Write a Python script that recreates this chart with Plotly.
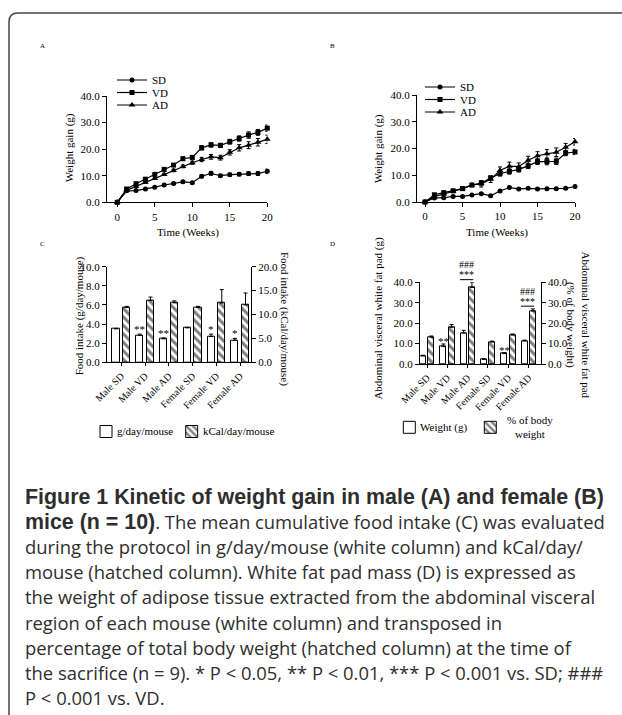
import plotly.graph_objects as go

W, H = 622, 715
def px(x): return x / W
def py(y): return 1 - y / H

SERIF = "Liberation Serif"
SANS = "Open Sans"

# ---------------- data ----------------
weeks = [0, 1.25, 2.5, 3.75, 5, 6.25, 7.5, 8.75, 10, 11.25, 12.5, 13.75, 15, 16.25, 17.5, 18.75, 20]

# Panel A (male)
sd_m = [0, 4.3, 4.4, 5.0, 5.7, 6.5, 7.1, 7.7, 7.4, 9.8, 10.9, 10.0, 10.4, 10.6, 10.8, 10.8, 11.7]
sd_m_err = [0, 0.3, 0.3, 0.3, 0.3, 0.3, 0.4, 0.4, 0.4, 0.6, 0.7, 0.5, 0.6, 0.6, 0.7, 0.7, 0.8]
vd_m = [0, 5.0, 7.0, 8.7, 10.5, 12.4, 14.0, 16.4, 16.9, 20.5, 21.6, 21.4, 22.8, 24.0, 25.3, 26.3, 27.9]
vd_m_err = [0, 0.3, 0.4, 0.4, 0.4, 0.5, 0.5, 0.6, 0.6, 0.8, 0.8, 0.8, 0.9, 1.0, 1.2, 1.1, 1.2]
ad_m = [0, 4.5, 6.0, 7.5, 9.0, 10.5, 12.0, 13.5, 14.9, 16.1, 17.1, 16.8, 18.8, 20.5, 21.5, 22.6, 23.7]
ad_m_err = [0, 0.3, 0.4, 0.4, 0.4, 0.4, 0.5, 0.5, 0.6, 0.8, 0.9, 0.9, 1.0, 1.2, 1.3, 1.4, 1.6]

# Panel B (female)
sd_f = [0, 1.5, 1.6, 2.1, 2.1, 2.6, 3.1, 2.3, 4.1, 5.4, 4.9, 5.1, 4.9, 5.0, 5.0, 5.1, 5.8]
sd_f_err = [0, 0.2, 0.2, 0.2, 0.2, 0.2, 0.3, 0.3, 0.3, 0.3, 0.3, 0.3, 0.3, 0.3, 0.3, 0.3, 0.4]
vd_f = [0, 2.7, 3.5, 4.2, 5.0, 6.3, 7.1, 9.0, 10.6, 11.4, 12.2, 13.5, 15.1, 15.1, 15.2, 18.3, 18.7]
vd_f_err = [0, 0.4, 0.4, 0.4, 0.5, 0.5, 0.6, 0.7, 0.9, 1.0, 1.0, 1.0, 1.1, 1.2, 1.2, 1.0, 1.0]
ad_f = [0, 2.0, 3.0, 4.0, 5.0, 6.4, 6.8, 8.5, 11.8, 13.4, 13.2, 15.6, 17.3, 18.0, 18.6, 20.5, 22.5]
ad_f_err = [0, 0.4, 0.5, 0.5, 0.5, 0.6, 1.2, 1.2, 1.3, 1.5, 1.4, 1.5, 1.5, 1.6, 1.6, 1.4, 1.2]

groups = ["Male SD", "Male VD", "Male AD", "Female SD", "Female VD", "Female AD"]

# Panel C (food intake)
food_g = [3.5, 2.8, 2.45, 3.6, 2.7, 2.3]
food_g_err = [0.05, 0.15, 0.1, 0.05, 0.25, 0.2]
food_kcal = [11.5, 12.95, 12.45, 11.5, 12.4, 12.0]
food_kcal_err = [0.2, 0.7, 0.4, 0.2, 2.8, 2.5]
food_sig = ["", "**", "**", "", "*", "*"]

# Panel D (fat pad)
fat_g = [4.0, 8.5, 15.2, 2.3, 5.1, 11.3]
fat_g_err = [0.3, 1.3, 1.3, 0.2, 0.4, 0.4]
fat_pct = [13.2, 18.0, 37.5, 10.8, 14.2, 26.0]
fat_pct_err = [0.5, 1.3, 2.5, 0.4, 0.5, 1.0]
fat_sig_sd = ["", "**", "", "", "**", ""]
fat_sig_pair = ["", "", "***", "", "", "***"]
fat_sig_vd = ["", "", "###", "", "", "###"]

BOLD = '<span style="font-family:Liberation Sans;font-size:21.4px"><b>%s</b></span>'
NORM = '<span style="font-size:18.4px">%s</span>'
caption_lines = [
    BOLD % "Figure 1 Kinetic of weight gain in male (A) and female (B)",
    BOLD % "mice (n = 10)" + NORM % ". The mean cumulative food intake (C) was evaluated",
    NORM % "during the protocol in g/day/mouse (white column) and kCal/day/",
    NORM % "mouse (hatched column). White fat pad mass (D) is expressed as",
    NORM % "the weight of adipose tissue extracted from the abdominal visceral",
    NORM % "region of each mouse (white column) and transposed in",
    NORM % "percentage of total body weight (hatched column) at the time of",
    NORM % "the sacrifice (n = 9). * P &lt; 0.05, ** P &lt; 0.01, *** P &lt; 0.001 vs. SD; ###",
    NORM % "P &lt; 0.001 vs. VD.",
]

# ---------------- figure ----------------
fig = go.Figure()

def add_series(xa, ya, yv, err, symbol, size, name, legend):
    fig.add_trace(go.Scatter(
        x=weeks, y=yv, mode="lines+markers", name=name,
        line=dict(color="black", width=1.2),
        marker=dict(symbol=symbol, size=size, color="black"),
        error_y=dict(type="data", array=err, width=2, thickness=1, color="black"),
        xaxis=xa, yaxis=ya, legend=legend, cliponaxis=False))

add_series("x", "y", sd_m, sd_m_err, "circle", 5, "SD", "legend")
add_series("x", "y", vd_m, vd_m_err, "square", 5, "VD", "legend2")
add_series("x", "y", ad_m, ad_m_err, "triangle-up", 6, "AD", "legend3")
add_series("x2", "y2", sd_f, sd_f_err, "circle", 5, "SD", "legend4")
add_series("x2", "y2", vd_f, vd_f_err, "square", 5, "VD", "legend5")
add_series("x2", "y2", ad_f, ad_f_err, "triangle-up", 6, "AD", "legend6")

BAR_W = 0.3
def bar(xa, ya, vals, err, hatched, offset, legend):
    marker = dict(color="white", line=dict(color="black", width=1))
    if hatched:
        marker["pattern"] = dict(shape="\\", fgcolor="black", bgcolor="white",
                                 size=6, solidity=0.5, fillmode="overlay")
    fig.add_trace(go.Bar(
        x=groups, y=vals, width=BAR_W, offset=offset, name=" ",
        marker=marker,
        error_y=dict(type="data", array=err, arrayminus=[0] * len(err), symmetric=False,
                     width=2, thickness=1, color="black"),
        xaxis=xa, yaxis=ya, legend=legend, cliponaxis=False))

C_WHITE_OFF, C_HATCH_OFF = -0.37, 0.08
D_WHITE_OFF, D_HATCH_OFF = -0.345, 0.064
bar("x3", "y3", food_g, food_g_err, False, C_WHITE_OFF, "legend7")
bar("x3", "y4", food_kcal, food_kcal_err, True, C_HATCH_OFF, "legend8")
bar("x4", "y5", fat_g, fat_g_err, False, D_WHITE_OFF, "legend9")
bar("x4", "y6", fat_pct, fat_pct_err, True, D_HATCH_OFF, "legend10")

axis_common = dict(showline=True, linecolor="black", linewidth=1, ticks="outside",
                   ticklen=4, tickcolor="black", tickwidth=1, showgrid=False,
                   zeroline=False, automargin=False,
                   tickfont=dict(family=SERIF, size=11, color="black"))
cat_axis = {**axis_common, "ticklen": 3,
            "tickfont": dict(family=SERIF, size=10, color="black")}

layout = dict(
    width=W, height=H, margin=dict(l=0, r=0, t=0, b=0, pad=0, autoexpand=False),
    paper_bgcolor="white", plot_bgcolor="white", showlegend=True,
    font=dict(family=SERIF, color="black", size=11),
    bargap=0,
    xaxis=dict(domain=[px(107), px(267.3)], range=[-1.37, 20], anchor="y",
               tickvals=[0, 5, 10, 15, 20], **axis_common),
    yaxis=dict(domain=[py(202.3), py(96)], range=[0, 40], dtick=10, tickformat=".1f",
               anchor="x", **axis_common),
    xaxis2=dict(domain=[px(417), px(575)], range=[-1.07, 20], anchor="y2",
                tickvals=[0, 5, 10, 15, 20], **axis_common),
    yaxis2=dict(domain=[py(202), py(95)], range=[0, 40], dtick=10, tickformat=".1f",
                anchor="x2", **axis_common),
    xaxis3=dict(domain=[px(107), px(251)], type="category", range=[-0.6, 5.46],
                anchor="y3", tickangle=-45, **cat_axis),
    yaxis3=dict(domain=[py(362.3), py(266.7)], range=[0, 10], dtick=2, tickformat=".1f",
                anchor="x3", **axis_common),
    yaxis4=dict(range=[0, 20], dtick=5, tickformat=".1f", overlaying="y3", side="right",
                anchor="x3", **axis_common),
    xaxis4=dict(domain=[px(420), px(540.7)], type="category", range=[-0.345, 5.6],
                anchor="y5", tickangle=-45, **cat_axis),
    yaxis5=dict(domain=[py(364), py(282.3)], range=[0, 40], dtick=10, tickformat=".1f",
                anchor="x4", **axis_common),
    yaxis6=dict(range=[0, 40], dtick=10, tickformat=".1f", overlaying="y5", side="right",
                anchor="x4", **axis_common),
)

# legends (one entry each, placed individually)
def legend_at(left, top):
    return dict(x=px(left), y=py(top), xanchor="left", yanchor="top", visible=True,
                bgcolor="rgba(0,0,0,0)", font=dict(family=SERIF, size=11, color="black"),
                tracegroupgap=0, itemclick=False, itemdoubleclick=False)

LEG_DX, LEG_DY = 7, 13.5
layout["legend"] = legend_at(119 - LEG_DX, 79 - LEG_DY)
layout["legend2"] = legend_at(119 - LEG_DX, 91.5 - LEG_DY)
layout["legend3"] = legend_at(119 - LEG_DX, 104 - LEG_DY)
layout["legend4"] = legend_at(427 - LEG_DX, 86 - LEG_DY)
layout["legend5"] = legend_at(427 - LEG_DX, 98.5 - LEG_DY)
layout["legend6"] = legend_at(427 - LEG_DX, 111 - LEG_DY)
BOX_DX, BOX_DY = 18, 13.5
layout["legend7"] = legend_at(104 - BOX_DX, 430.5 - BOX_DY)
layout["legend8"] = legend_at(189.7 - BOX_DX, 430.5 - BOX_DY)
layout["legend9"] = legend_at(407.3 - BOX_DX, 426.3 - BOX_DY)
layout["legend10"] = legend_at(488.3 - BOX_DX, 426.3 - BOX_DY)

fig.update_layout(**layout)

ann = []
def text(x, y, s, size=11, angle=0, xanchor="center", yanchor="middle", family=SERIF,
         color="black", align="center"):
    ann.append(dict(x=px(x), y=py(y), xref="paper", yref="paper", text=s, showarrow=False,
                    textangle=angle, xanchor=xanchor, yanchor=yanchor, align=align,
                    font=dict(family=family, size=size, color=color)))

# panel letters
text(42.7, 46, "A", size=7)
text(332.7, 46, "B", size=7)
text(42.7, 244, "C", size=7)
text(332.7, 244, "D", size=7)

# axis titles
text(188.3, 232.3, "Time (Weeks)")
text(496.7, 232.3, "Time (Weeks)")
text(69.3, 148, "Weight gain (g)", angle=-90)
text(378.3, 149, "Weight gain (g)", angle=-90)
text(79.3, 316, "Food intake (g/day/mouse)", angle=-90)
text(285, 319, "Food intake (kCal/day/mouse)", angle=90)
text(378.3, 318.3, "Abdominal visceral white fat pad (g)", angle=-90)
text(578, 324.5, "Abdominal visceral white fat pad<br>(% of body weight)", angle=90)

# bar legend texts
text(115, 430.5, "g/day/mouse", xanchor="left")
text(201, 430.5, "kCal/day/mouse", xanchor="left")
text(418.3, 427.3, "Weight (g)", xanchor="left")
text(505, 427, "% of body<br>weight", xanchor="left", align="center")

# significance marks
for i, s in enumerate(food_sig):
    if s:
        ann.append(dict(x=i + C_WHITE_OFF + BAR_W / 2, y=food_g[i] + food_g_err[i],
                        xref="x3", yref="y3", text=s, showarrow=False, yanchor="bottom",
                        yshift=-3, font=dict(family=SERIF, size=11, color="black")))
for i, s in enumerate(fat_sig_sd):
    if s:
        ann.append(dict(x=i + D_WHITE_OFF + BAR_W / 2, y=fat_g[i] + fat_g_err[i],
                        xref="x4", yref="y5", text=s, showarrow=False, yanchor="bottom",
                        yshift=-5, font=dict(family=SERIF, size=11, color="black")))

D_dom = layout["yaxis5"]["domain"]
shapes = []
for i, s in enumerate(fat_sig_pair):
    if s:
        top = fat_pct[i] + fat_pct_err[i] + 1.3
        ypaper = D_dom[0] + top / 40 * (D_dom[1] - D_dom[0])
        shapes.append(dict(type="line", xref="x4", yref="paper", x0=i - 0.37, x1=i + 0.28,
                           y0=ypaper, y1=ypaper, line=dict(color="black", width=1)))
        ann.append(dict(x=i - 0.05, y=ypaper, xref="x4", yref="paper", text=s,
                        showarrow=False, yanchor="middle", yshift=5,
                        font=dict(family=SERIF, size=10, color="black")))
        ann.append(dict(x=i - 0.05, y=ypaper, xref="x4", yref="paper", text=fat_sig_vd[i],
                        showarrow=False, yanchor="middle", yshift=15,
                        font=dict(family=SERIF, size=10, color="black")))

# caption (one text block; line pitch = 1.3 x 19.3 px)
LINE_PITCH = 25.1
text(23, 497.5 + LINE_PITCH * (len(caption_lines) - 1) / 2, "<br>".join(caption_lines),
     size=LINE_PITCH / 1.3, xanchor="left", family=SANS, color="#2e2e2e", align="left")

# frame
shapes.append(dict(type="path", xref="paper", yref="paper",
                   path=f"M {px(9)},{py(715)} L {px(9)},{py(22)} Q {px(9)},{py(13)} {px(18)},{py(13)} L {px(622)},{py(13)}",
                   line=dict(color="#444444", width=1.5)))

fig.update_layout(annotations=ann, shapes=shapes)
fig.write_html("out.html", config={"displayModeBar": False},
               post_script="document.body.style.margin='0';")
